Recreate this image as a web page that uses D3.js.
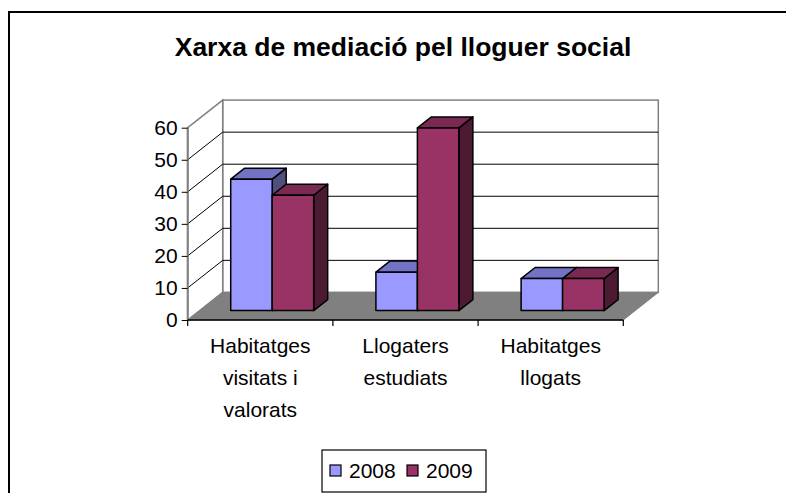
<!DOCTYPE html>
<html><head><meta charset="utf-8">
<script src="https://cdn.jsdelivr.net/npm/d3@7/dist/d3.min.js"></script>
<style>
html,body{margin:0;padding:0;background:#fff;}
svg{display:block;font-family:Arial,"Liberation Sans",sans-serif;}
</style></head>
<body>
<svg id="c" width="786" height="493"></svg>
<script>
const title = "Xarxa de mediació pel lloguer social";
const categories = ["Habitatges\nvisitats i\nvalorats", "Llogaters\nestudiats", "Habitatges\nllogats"];
const seriesNames = ["2008", "2009"];
const values2008 = [41, 12, 10];
const values2009 = [36, 57, 10];
const yTicks = [0, 10, 20, 30, 40, 50, 60];

const frontColors = ["#9999FF", "#993366"];
const topColors = ["#7373C6", "#7A2952"];
const sideColors = ["#4F4F80", "#4D1A33"];

const svg = d3.select("#c");
const series = [values2008, values2009];

// frame
svg.append("rect").attr("x", 9).attr("y", 12).attr("width", 800).attr("height", 500)
  .attr("fill", "#fff").attr("stroke", "#000").attr("stroke-width", 2);

svg.append("text").attr("x", 403).attr("y", 56).attr("text-anchor", "middle")
  .attr("font-weight", "bold").attr("font-size", 26.5).text(title);

const x0 = 187.7, x1 = 623.3;
const y = d3.scaleLinear().domain([0, 60]).range([320, 127.7]);
const DX = 35, DY = -27.6;
const x = d3.scaleBand().domain(categories).range([x0, x1]);
const xs = d3.scaleBand().domain(seriesNames).range([0, x.bandwidth()]).paddingInner(0).paddingOuter(0.75);

const pt = (px, py) => px + "," + py;
// back wall
svg.append("rect").attr("x", x0 + DX).attr("y", y(60) + DY).attr("width", x1 - x0)
  .attr("height", y(0) - y(60)).attr("fill", "#fff").attr("stroke", "#808080").attr("stroke-width", 1.5);
// left wall
svg.append("polygon").attr("points", [pt(x0, y(0)), pt(x0, y(60)), pt(x0 + DX, y(60) + DY), pt(x0 + DX, y(0) + DY)].join(" "))
  .attr("fill", "#fff").attr("stroke", "#808080").attr("stroke-width", 1.5);
// gridlines
yTicks.filter(v => v > 0 && v < 60).forEach(v => {
  svg.append("line").attr("x1", x0 + DX).attr("x2", x1 + DX).attr("y1", y(v) + DY).attr("y2", y(v) + DY)
    .attr("stroke", "#000").attr("stroke-width", 1);
  svg.append("line").attr("x1", x0).attr("x2", x0 + DX).attr("y1", y(v)).attr("y2", y(v) + DY)
    .attr("stroke", "#000").attr("stroke-width", 1);
});
// floor
svg.append("polygon").attr("points", [pt(x0, y(0)), pt(x1, y(0)), pt(x1 + DX, y(0) + DY), pt(x0 + DX, y(0) + DY)].join(" "))
  .attr("fill", "#808080").attr("stroke", "#808080").attr("stroke-width", 1);

// y axis
svg.append("line").attr("x1", x0).attr("x2", x0).attr("y1", y(60)).attr("y2", y(0))
  .attr("stroke", "#808080").attr("stroke-width", 2);
const yAxis = d3.axisLeft(y).tickValues(yTicks).tickSize(6).tickPadding(4);
const ga = svg.append("g").attr("transform", `translate(${x0},0)`).call(yAxis);
ga.select(".domain").remove();
ga.selectAll(".tick line").attr("stroke", "#000");
ga.selectAll(".tick text").attr("font-size", 21).attr("fill", "#000").attr("font-family", "Arial, 'Liberation Sans', sans-serif");

// x axis
const xa = svg.append("g").attr("transform", `translate(0,${y(0)})`);
xa.append("line").attr("x1", x0).attr("x2", x1).attr("stroke", "#000").attr("stroke-width", 1.5);
x.domain().concat([null]).forEach((c, i) => {
  const tx = c === null ? x1 : x(c);
  xa.append("line").attr("x1", tx).attr("x2", tx).attr("y1", 0).attr("y2", 6).attr("stroke", "#000").attr("stroke-width", 1.2);
});
categories.forEach(c => {
  const lines = c.split("\n");
  const t = xa.append("text").attr("text-anchor", "middle").attr("font-size", 21).attr("fill", "#000");
  lines.forEach((l, k) => t.append("tspan").attr("x", x(c) + x.bandwidth() / 2).attr("y", 33 + k * 32).text(l));
});

// bars
const f = 0.34, d = 0.4;
const fx = DX * f, fy = DY * f, bx = DX * d, by = DY * d;
categories.forEach((c, ci) => {
  seriesNames.forEach((s, si) => {
    const v = series[si][ci];
    const L = x(c) + xs(s) + fx, R = L + xs.bandwidth();
    const B = y(0) + fy, T = y(v) + fy;
    const g = svg.append("g").attr("stroke", "#000").attr("stroke-width", 1.5).attr("stroke-linejoin", "round");
    g.append("polygon").attr("points", [pt(R, B), pt(R, T), pt(R + bx, T + by), pt(R + bx, B + by)].join(" ")).attr("fill", sideColors[si]);
    g.append("polygon").attr("points", [pt(L, T), pt(R, T), pt(R + bx, T + by), pt(L + bx, T + by)].join(" ")).attr("fill", topColors[si]);
    g.append("rect").attr("x", L).attr("y", T).attr("width", R - L).attr("height", B - T).attr("fill", frontColors[si]);
  });
});

// legend
const lg = svg.append("g");
lg.append("rect").attr("x", 322).attr("y", 450).attr("width", 164).attr("height", 42)
  .attr("fill", "#fff").attr("stroke", "#000").attr("stroke-width", 1.2);
const legX = [330, 407];
seriesNames.forEach((s, i) => {
  lg.append("rect").attr("x", legX[i]).attr("y", 465).attr("width", 11).attr("height", 11)
    .attr("fill", frontColors[i]).attr("stroke", "#000").attr("stroke-width", 1.2);
  lg.append("text").attr("x", legX[i] + 19).attr("y", 478).attr("font-size", 21).text(s);
});
</script>
</body></html>
